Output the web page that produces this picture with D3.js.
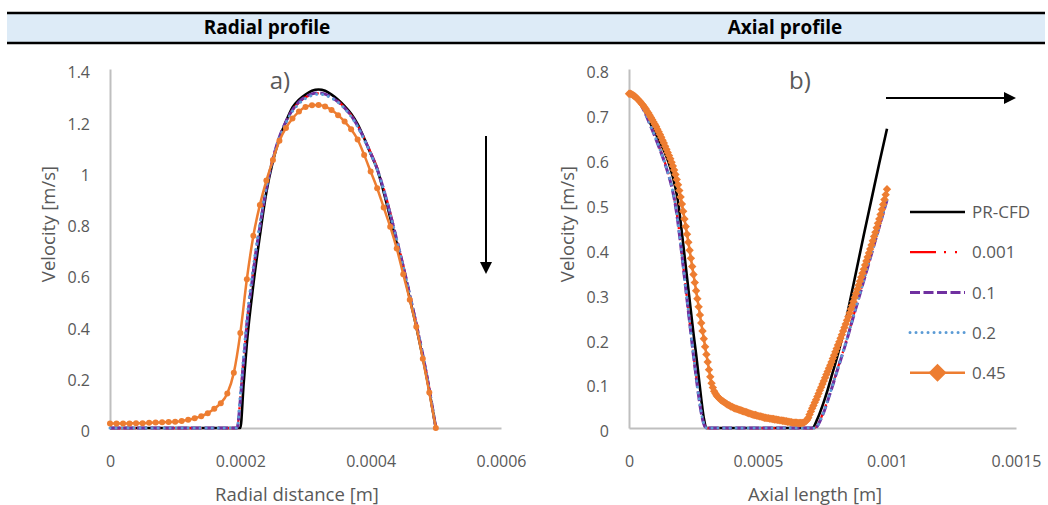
<!DOCTYPE html>
<html><head><meta charset="utf-8">
<script src="https://cdn.jsdelivr.net/npm/d3@7"></script>
<style>
body{margin:0;background:#fff;}
svg text{font-family:"Open Sans",sans-serif;}
</style></head><body>
<svg id="c" width="1048" height="505"></svg>
<script>
// ---------- DATA (x in micrometres, velocity in m/s) ----------
const seriesNames = ["PR-CFD", "0.001", "0.1", "0.2", "0.45"];

// Radial profile
const radialCfdX_um = [0,200,205,210,220,230,240,250,260,270,280,290,300,310,320,330,340,350,360,370,380,390,400,410,420,430,440,450,460,470,480,490,500];
const radialCfdV = [0,0,0.17,0.33,0.56,0.75,0.92,1.04,1.13,1.195,1.25,1.28,1.30,1.315,1.32,1.315,1.30,1.28,1.255,1.225,1.185,1.13,1.07,1.01,0.92,0.82,0.72,0.615,0.505,0.395,0.275,0.145,0];
const radialSimX_um = [0,195,200,205,210,220,230,240,250,260,270,280,290,300,310,320,330,340,350,360,370,380,390,400,410,420,430,440,450,460,470,480,490,500];
const radial001V = [0,0,0.12,0.27,0.41,0.62,0.79,0.94,1.05,1.135,1.195,1.24,1.27,1.29,1.30,1.305,1.30,1.29,1.275,1.25,1.22,1.18,1.13,1.075,1.015,0.935,0.84,0.74,0.635,0.525,0.41,0.29,0.155,0];
const radial01V = [0,0,0.11,0.26,0.40,0.61,0.785,0.935,1.05,1.135,1.195,1.24,1.272,1.292,1.303,1.307,1.302,1.29,1.272,1.248,1.218,1.178,1.128,1.072,1.01,0.93,0.835,0.735,0.63,0.52,0.405,0.285,0.15,0];
const radial02V = [0,0,0.13,0.28,0.42,0.63,0.795,0.94,1.05,1.13,1.19,1.235,1.265,1.285,1.297,1.302,1.298,1.287,1.27,1.246,1.215,1.175,1.125,1.07,1.008,0.928,0.835,0.735,0.63,0.52,0.405,0.285,0.15,0];
const radial045X_um = [0,10,20,30,40,50,60,70,80,90,100,110,120,130,140,150,160,170,180,190,200,210,220,230,240,250,260,270,280,290,300,310,320,330,340,350,360,370,380,390,400,410,420,430,440,450,460,470,480,490,500];
const radial045V = [0.018,0.018,0.018,0.018,0.019,0.019,0.020,0.021,0.022,0.023,0.024,0.027,0.032,0.038,0.046,0.058,0.075,0.097,0.135,0.215,0.37,0.58,0.75,0.87,0.965,1.045,1.12,1.17,1.207,1.234,1.252,1.259,1.26,1.254,1.24,1.22,1.195,1.165,1.125,1.065,1.0,0.935,0.86,0.785,0.70,0.60,0.50,0.395,0.27,0.138,0.0];

// Axial profile
const axialCfdX_um = [0,20,40,60,80,100,120,140,160,180,190,200,210,220,230,240,250,260,270,280,290,300,710,730,750,770,790,810,830,850,870,890,910,940,970,1000];
const axialCfdV = [0.745,0.741,0.728,0.708,0.682,0.66,0.637,0.612,0.58,0.535,0.505,0.46,0.41,0.36,0.31,0.26,0.21,0.165,0.115,0.065,0.022,0,0,0.02,0.05,0.085,0.125,0.165,0.21,0.265,0.32,0.375,0.43,0.51,0.59,0.667];
const axialSimX_um = [0,20,40,60,80,100,120,140,160,170,180,190,200,210,220,230,240,250,260,270,280,290,300,720,750,780,810,840,870,900,930,960,1000];
const axial001V = [0.745,0.740,0.727,0.707,0.680,0.652,0.622,0.590,0.552,0.528,0.498,0.458,0.412,0.362,0.312,0.262,0.212,0.163,0.117,0.073,0.036,0.010,0,0,0.03,0.08,0.135,0.19,0.25,0.31,0.37,0.43,0.51];
const axial01V  = [0.745,0.739,0.726,0.705,0.678,0.650,0.620,0.588,0.550,0.526,0.496,0.456,0.410,0.360,0.310,0.260,0.210,0.161,0.115,0.071,0.034,0.009,0,0,0.028,0.078,0.133,0.188,0.248,0.308,0.368,0.428,0.508];
const axial02V  = [0.745,0.740,0.727,0.706,0.679,0.651,0.621,0.589,0.551,0.527,0.497,0.457,0.411,0.361,0.311,0.261,0.211,0.162,0.116,0.072,0.035,0.010,0,0,0.029,0.079,0.134,0.189,0.249,0.309,0.369,0.429,0.509];
const axial045X_um = [0,5,10,15,20,25,30,35,40,45,50,55,60,65,70,75,80,85,90,95,100,105,110,115,120,125,130,135,140,145,150,155,160,165,170,175,180,185,190,195,200,205,210,215,220,225,230,235,240,245,250,255,260,265,270,275,280,285,290,295,300,305,310,315,320,325,330,335,340,345,350,355,360,365,370,375,380,385,390,395,400,405,410,415,420,425,430,435,440,445,450,455,460,465,470,475,480,485,490,495,500,505,510,515,520,525,530,535,540,545,550,555,560,565,570,575,580,585,590,595,600,605,610,615,620,625,630,635,640,645,650,655,660,665,670,675,680,685,690,695,700,705,710,715,720,725,730,735,740,745,750,755,760,765,770,775,780,785,790,795,800,805,810,815,820,825,830,835,840,845,850,855,860,865,870,875,880,885,890,895,900,905,910,915,920,925,930,935,940,945,950,955,960,965,970,975,980,985,990,995,1000];
const axial045V = [0.745,0.745,0.744,0.742,0.740,0.738,0.735,0.732,0.729,0.726,0.722,0.719,0.715,0.711,0.706,0.702,0.697,0.692,0.687,0.682,0.677,0.672,0.666,0.660,0.654,0.648,0.641,0.635,0.628,0.621,0.614,0.607,0.600,0.592,0.584,0.575,0.565,0.554,0.542,0.529,0.515,0.499,0.483,0.466,0.449,0.432,0.414,0.396,0.378,0.360,0.342,0.324,0.306,0.288,0.270,0.252,0.234,0.216,0.199,0.181,0.164,0.147,0.130,0.114,0.100,0.090,0.082,0.077,0.072,0.069,0.066,0.063,0.061,0.059,0.057,0.055,0.053,0.051,0.050,0.048,0.047,0.045,0.044,0.043,0.042,0.041,0.040,0.039,0.038,0.037,0.036,0.035,0.034,0.033,0.032,0.031,0.030,0.029,0.029,0.028,0.027,0.026,0.026,0.025,0.024,0.023,0.023,0.022,0.022,0.021,0.021,0.020,0.020,0.019,0.019,0.018,0.018,0.017,0.017,0.016,0.016,0.015,0.015,0.014,0.014,0.013,0.013,0.012,0.012,0.012,0.012,0.011,0.011,0.011,0.011,0.012,0.013,0.015,0.018,0.023,0.030,0.037,0.044,0.050,0.057,0.063,0.070,0.077,0.084,0.091,0.098,0.105,0.112,0.119,0.126,0.133,0.140,0.147,0.155,0.162,0.170,0.177,0.185,0.192,0.200,0.208,0.216,0.224,0.232,0.240,0.248,0.256,0.265,0.273,0.282,0.291,0.300,0.309,0.318,0.327,0.336,0.345,0.354,0.363,0.372,0.381,0.390,0.399,0.408,0.417,0.427,0.436,0.446,0.456,0.466,0.476,0.487,0.498,0.509,0.520,0.532];

// Axes ticks / labels
const radialXTicks = [0, 0.0002, 0.0004, 0.0006];
const radialYTicks = [0, 0.2, 0.4, 0.6, 0.8, 1, 1.2, 1.4];
const axialXTicks = [0, 0.0005, 0.001, 0.0015];
const axialYTicks = [0, 0.1, 0.2, 0.3, 0.4, 0.5, 0.6, 0.7, 0.8];
const headerTitles = ["Radial profile", "Axial profile"];
const xTitles = ["Radial distance [m]", "Axial length [m]"];
const yTitle = "Velocity [m/s]";
const panelTags = ["a)", "b)"];

// ---------- STYLES ----------
const styles = [
  {color:"#000000", width:2.6, dash:null},
  {color:"#FF0000", width:2.25, dash:"26,8,2,9,2,9"},
  {color:"#7030A0", width:3, dash:"10,3.5"},
  {color:"#5B9BD5", width:3, dash:"0.01,6", cap:"round"},
  {color:"#ED7D31", width:2.5, dash:null}
];
const grey = "#595959";
const diamond = r => `M0,${-r}L${r},0L0,${r}L${-r},0Z`;

const svg = d3.select("#c");

// header band
svg.append("rect").attr("x",7).attr("y",13).attr("width",1038).attr("height",30).attr("fill","#DDEBF7");
[13,43].forEach(y => svg.append("line").attr("x1",7).attr("x2",1045).attr("y1",y).attr("y2",y)
  .attr("stroke","#000").attr("stroke-width",2.5));
[267,785].forEach((cx,i) => svg.append("text").attr("x",cx).attr("y",34).attr("text-anchor","middle")
  .attr("font-size",19).attr("font-weight","bold").attr("fill","#000").text(headerTitles[i]));

function panel(opt){
  const x = d3.scaleLinear().domain(opt.xDomain).range(opt.xRange);
  const y = d3.scaleLinear().domain(opt.yDomain).range([428,69]);
  const g = svg.append("g");

  const yAx = g.append("g").attr("transform",`translate(${opt.xRange[0]},0)`)
    .call(d3.axisLeft(y).tickValues(opt.yTicks).tickSize(0).tickPadding(20).tickFormat(d=>String(d)));
  const xAx = g.append("g").attr("transform",`translate(0,428)`)
    .call(d3.axisBottom(x).tickValues(opt.xTicks).tickSize(0).tickPadding(28).tickFormat(d=>String(d)));
  [xAx,yAx].forEach(a=>{
    a.select(".domain").attr("stroke","#BFBFBF").attr("stroke-width",2);
    a.selectAll("text").attr("fill",grey).attr("font-size",16).attr("font-family","Open Sans, sans-serif");
  });
  yAx.selectAll("text").attr("dy","0.55em");

  const line = d3.line().x(d=>x(d[0]*1e-6)).y(d=>y(d[1])).curve(d3.curveMonotoneX);
  opt.series.forEach((s,i)=>{
    const st = styles[i];
    const pts = s.x.map((v,k)=>[v,s.v[k]]);
    g.append("path").attr("d",line(pts)).attr("fill","none").attr("stroke",st.color)
      .attr("stroke-width",st.width).attr("stroke-dasharray",st.dash)
      .attr("stroke-linecap",st.cap||"butt").attr("stroke-linejoin","round");
    if(i===4){
      if(opt.marker==="circle"){
        g.selectAll(null).data(pts).enter().append("circle")
          .attr("cx",d=>x(d[0]*1e-6)).attr("cy",d=>y(d[1])).attr("r",3).attr("fill",st.color);
      } else {
        g.selectAll(null).data(pts).enter().append("path").attr("d",diamond(4.2))
          .attr("transform",d=>`translate(${x(d[0]*1e-6)},${y(d[1])})`).attr("fill",st.color);
      }
    }
  });

  g.append("text").attr("x",opt.tagX).attr("y",89).attr("text-anchor","middle")
    .attr("font-size",24).attr("fill",grey).text(opt.tag);
  g.append("text").attr("x",opt.xTitleX).attr("y",501).attr("text-anchor","middle")
    .attr("font-size",18.5).attr("fill",grey).text(opt.xTitle);
  g.append("text").attr("transform",`translate(${opt.yTitleX},224) rotate(-90)`)
    .attr("text-anchor","middle").attr("dominant-baseline","central")
    .attr("font-size",18.5).attr("fill",grey).text(yTitle);
}

panel({
  xDomain:[0,0.0006], xRange:[110,501], yDomain:[0,1.4], xTicks:radialXTicks, yTicks:radialYTicks,
  marker:"circle", tag:panelTags[0], tagX:280, xTitle:xTitles[0], xTitleX:297, yTitleX:47,
  series:[
    {x:radialCfdX_um, v:radialCfdV},
    {x:radialSimX_um, v:radial001V},
    {x:radialSimX_um, v:radial01V},
    {x:radialSimX_um, v:radial02V},
    {x:radial045X_um, v:radial045V}
  ]
});
panel({
  xDomain:[0,0.0015], xRange:[629,1016], yDomain:[0,0.8], xTicks:axialXTicks, yTicks:axialYTicks,
  marker:"diamond", tag:panelTags[1], tagX:800, xTitle:xTitles[1], xTitleX:815, yTitleX:566,
  series:[
    {x:axialCfdX_um, v:axialCfdV},
    {x:axialSimX_um, v:axial001V},
    {x:axialSimX_um, v:axial01V},
    {x:axialSimX_um, v:axial02V},
    {x:axial045X_um, v:axial045V}
  ]
});

// arrows
function arrow(x1,y1,x2,y2){
  const ang = Math.atan2(y2-y1,x2-x1), L=12, W=6;
  const bx = x2 - L*Math.cos(ang), by = y2 - L*Math.sin(ang);
  svg.append("line").attr("x1",x1).attr("y1",y1).attr("x2",bx).attr("y2",by)
    .attr("stroke","#000").attr("stroke-width",2);
  svg.append("path").attr("d",`M${x2},${y2}L${bx+W*Math.sin(ang)},${by-W*Math.cos(ang)}L${bx-W*Math.sin(ang)},${by+W*Math.cos(ang)}Z`)
    .attr("fill","#000");
}
arrow(486,136,486,274);
arrow(886,98,1016,98);

// legend
const lg = svg.append("g");
seriesNames.forEach((n,i)=>{
  const yy = 212 + i*40.2, st = styles[i];
  lg.append("line").attr("x1",910).attr("x2",965).attr("y1",yy).attr("y2",yy)
    .attr("stroke",st.color).attr("stroke-width",st.width).attr("stroke-dasharray",st.dash)
    .attr("stroke-linecap",st.cap||"butt");
  if(i===4){
    lg.append("path").attr("d",diamond(9)).attr("transform",`translate(937.5,${yy})`).attr("fill",st.color);
  }
  lg.append("text").attr("x",972).attr("y",yy).attr("dy","0.36em").attr("font-size",17)
    .attr("fill",grey).text(n);
});
</script>
</body></html>
